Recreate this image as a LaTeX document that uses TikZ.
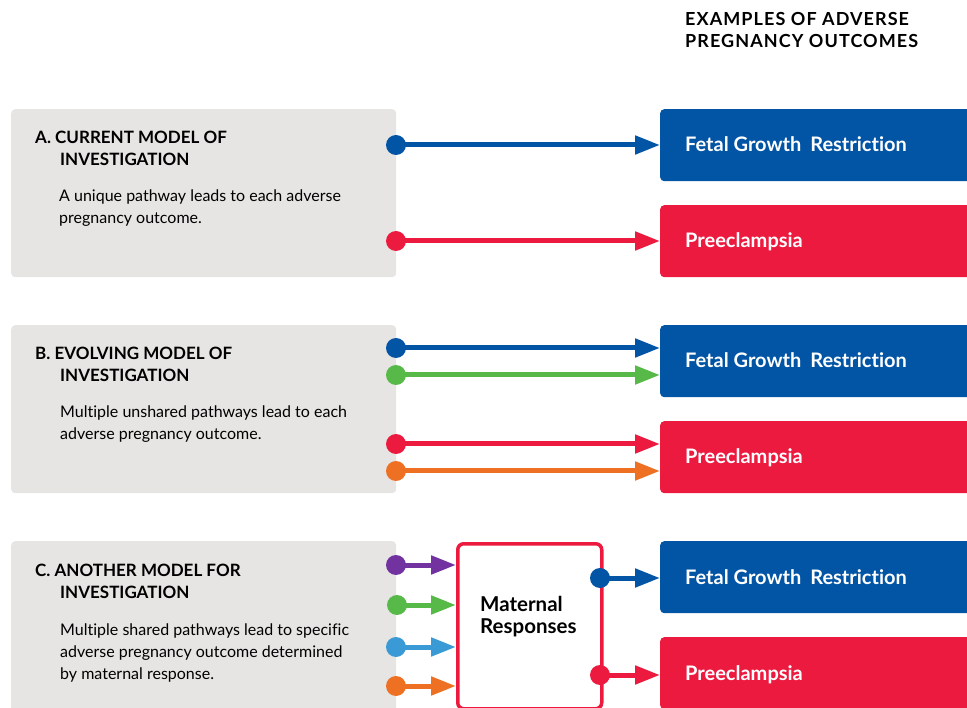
\documentclass[tikz,border=0pt]{standalone}
\usepackage{fontspec}
\setmainfont{Lato}[Ligatures={NoCommon}]
\usetikzlibrary{arrows.meta}
\definecolor{cblue}{HTML}{0254A5}
\definecolor{cred}{HTML}{ED1A40}
\definecolor{cgreen}{HTML}{57B947}
\definecolor{corange}{HTML}{EE7023}
\definecolor{cpurple}{HTML}{7232A0}
\definecolor{clblue}{HTML}{3A9AD5}
\definecolor{cgray}{HTML}{E6E5E3}
\tikzset{
  panel/.style={fill=cgray, rounded corners=4pt, inner sep=0pt, anchor=north west, minimum width=385pt},
  outbox/.style={fill=#1, rounded corners=4pt, inner sep=0pt, anchor=north west, minimum width=320pt, minimum height=72pt},
  outtxt/.style={text=white, font=\fontsize{20}{24}\selectfont\bfseries, inner sep=0pt, anchor=base west},
  headtxt/.style={font=\fontsize{17}{22}\selectfont\bfseries, inner sep=0pt, anchor=base west, align=left},
  bodytxt/.style={font=\fontsize{16}{22}\selectfont, inner sep=0pt, anchor=base west, align=left},
  dot/.style={circle, fill=#1, inner sep=0pt, minimum size=20pt},
  arr/.style={draw=#1, line width=5pt, -{Triangle[length=25pt,width=18pt]}},
}
\begin{document}
\begin{tikzpicture}[x=1pt,y=-1pt]
\useasboundingbox (0,0) rectangle (967,708);
\clip (0,0) rectangle (967,708);

% title
\node[headtxt, font=\fontsize{18}{22}\selectfont\bfseries\addfontfeatures{LetterSpace=6}] (title) at (685,48) {EXAMPLES OF ADVERSE\\PREGNANCY OUTCOMES};

% panels
\node[panel, minimum height=168pt] (pA) at (11,109) {};
\node[panel, minimum height=168pt] (pB) at (11,325) {};
\node[panel, minimum height=175pt] (pC) at (11,541) {};

\node[headtxt] (hA) at (35,166) {A. CURRENT MODEL OF\\\hspace*{25pt}INVESTIGATION};
\node[bodytxt] (tA) at (59,224) {A unique pathway leads to each adverse\\pregnancy outcome.};
\node[headtxt] (hB) at (35,382) {B. EVOLVING MODEL OF\\\hspace*{25pt}INVESTIGATION};
\node[bodytxt] (tB) at (60,440) {Multiple unshared pathways lead to each\\adverse pregnancy outcome.};
\node[headtxt] (hC) at (35,598) {C. ANOTHER MODEL FOR\\\hspace*{25pt}INVESTIGATION};
\node[bodytxt] (tC) at (60,679) {Multiple shared pathways lead to specific\\adverse pregnancy outcome determined\\by maternal response.};

% outcome boxes
\node[outbox=cblue] (fA) at (660,109) {};
\node[outbox=cred] (rA) at (660,205) {};
\node[outbox=cblue] (fB) at (660,325) {};
\node[outbox=cred] (rB) at (660,421) {};
\node[outbox=cblue] (fC) at (660,541) {};
\node[outbox=cred] (rC) at (660,637) {};
\foreach \b/\y in {fA/145,fB/361,fC/577}{
  \node[outtxt] (\b t) at (685,\y+7) {Fetal Growth\hspace{0.45em}Restriction};
}
\foreach \b/\y in {rA/241,rB/457,rC/673}{
  \node[outtxt] (\b t) at (685,\y+7) {Preeclampsia};
}

% maternal box
\node[draw=cred, line width=3.5pt, fill=white, rounded corners=6pt, anchor=north west, minimum width=144pt, minimum height=165pt, inner sep=0pt] (mat) at (456,542) {};
\node[font=\fontsize{20.5}{21.5}\selectfont\bfseries, align=left, anchor=base west, inner sep=0pt] (matt) at (480,633) {Maternal\\Responses};

% A arrows
\node[dot=cblue] (dA1) at (396,145) {};
\node[dot=cred] (dA2) at (396,241) {};
\draw[arr=cblue] (dA1.center) -- (dA1 -| fA.west);
\draw[arr=cred] (dA2.center) -- (dA2 -| rA.west);

% B arrows
\node[dot=cblue] (dB1) at (396,348) {};
\node[dot=cgreen] (dB2) at (396,375) {};
\node[dot=cred] (dB3) at (396,444) {};
\node[dot=corange] (dB4) at (396,471) {};
\draw[arr=cblue] (dB1.center) -- (dB1 -| fB.west);
\draw[arr=cgreen] (dB2.center) -- (dB2 -| fB.west);
\draw[arr=cred] (dB3.center) -- (dB3 -| rB.west);
\draw[arr=corange] (dB4.center) -- (dB4 -| rB.west);

% C arrows
\node[dot=cpurple] (dC1) at (396,565) {};
\node[dot=cgreen] (dC2) at (397,605) {};
\node[dot=clblue] (dC3) at (396,647) {};
\node[dot=corange] (dC4) at (396,686) {};
\draw[arr=cpurple] (dC1.center) -- (dC1 -| mat.west);
\draw[arr=cgreen] (dC2.center) -- (dC2 -| mat.west);
\draw[arr=clblue] (dC3.center) -- (dC3 -| mat.west);
\draw[arr=corange] (dC4.center) -- (dC4 -| mat.west);

\node[dot=cblue] (dC5) at (600,578) {};
\node[dot=cred] (dC6) at (600,675) {};
\draw[arr=cblue] (dC5.center) -- (dC5 -| fC.west);
\draw[arr=cred] (dC6.center) -- (dC6 -| rC.west);
\end{tikzpicture}
\end{document}
